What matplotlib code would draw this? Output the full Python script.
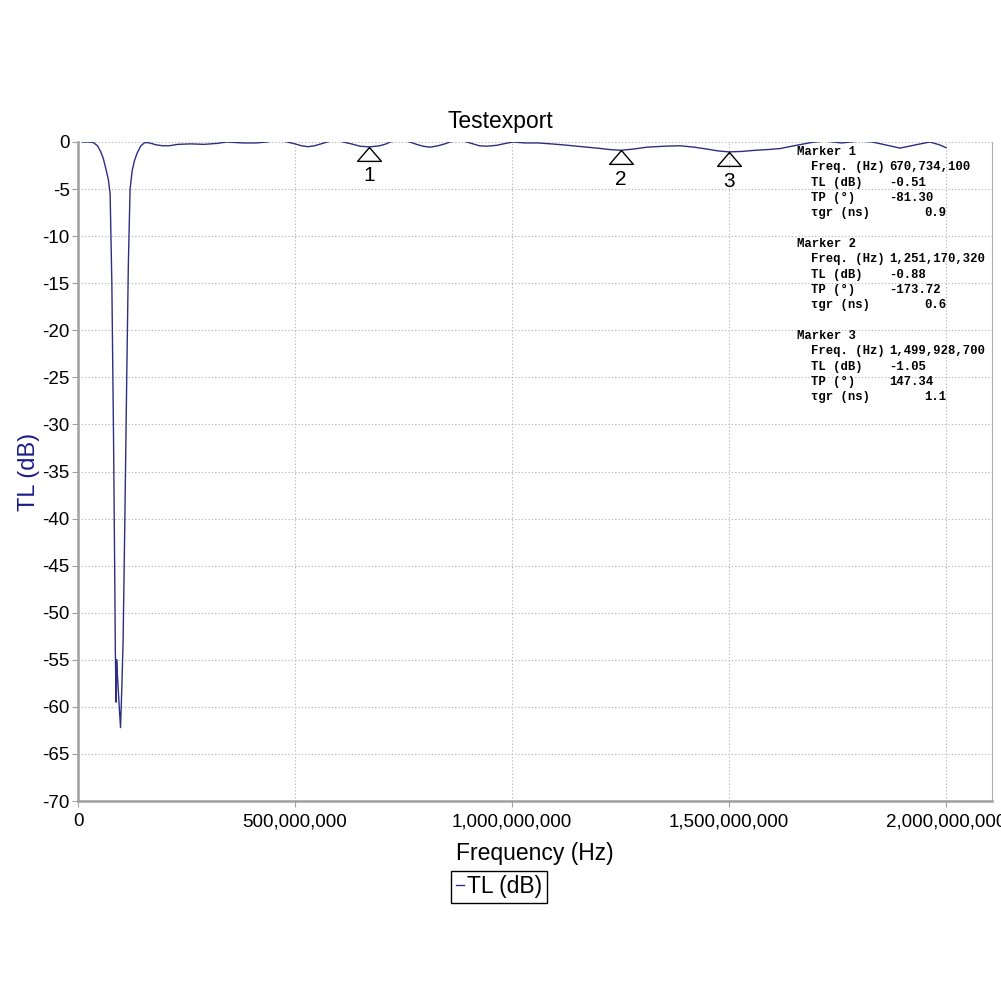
import numpy as np
import matplotlib.pyplot as plt

# transmission loss trace, frequency in MHz
freq_mhz = [10, 25, 35, 45, 52, 58, 64, 70, 74, 78, 82, 85, 86, 87, 88, 89, 90, 92, 95, 98,
            101, 104, 108, 112, 116, 120, 125, 130, 136, 145, 154, 165, 180, 195, 210, 230,
            260, 290, 320, 343, 380, 410, 435, 460, 482, 500, 515, 530, 545, 560, 574, 592,
            611, 630, 650, 672, 695, 710, 719, 742, 765, 780, 795, 811, 830, 845, 857, 876,
            896, 910, 925, 942, 965, 985, 1002, 1030, 1060, 1090, 1117, 1150, 1196, 1225,
            1251, 1280, 1311, 1350, 1387, 1420, 1449, 1475, 1500, 1530, 1555, 1590, 1617,
            1650, 1690, 1720, 1760, 1800, 1830, 1860, 1894, 1930, 1963, 1985, 2000]
tl_db = [0.0, 0.0, -0.05, -0.4, -1.0, -1.7, -2.8, -4.0, -5.5, -15, -32, -48, -54, -57, -59.5,
         -55, -56, -57.5, -60, -62.2, -58, -52.8, -40, -26, -13, -5.0, -3.0, -2.0, -1.2, -0.4,
         -0.05, -0.1, -0.3, -0.4, -0.4, -0.25, -0.2, -0.25, -0.15, 0.0, -0.1, -0.1, 0.0, 0.2,
         0.0, -0.2, -0.4, -0.5, -0.4, -0.2, 0.0, 0.2, 0.0, -0.2, -0.45, -0.52, -0.4, -0.2,
         0.0, 0.2, 0.0, -0.25, -0.45, -0.55, -0.4, -0.2, 0.0, 0.2, 0.0, -0.2, -0.4, -0.45,
         -0.35, -0.15, 0.0, -0.1, -0.1, -0.2, -0.3, -0.45, -0.65, -0.8, -0.88, -0.75, -0.55,
         -0.45, -0.4, -0.55, -0.75, -0.95, -1.05, -1.0, -0.9, -0.8, -0.7, -0.4, -0.05, 0.1,
         -0.1, 0.1, 0.0, -0.3, -0.65, -0.3, 0.0, -0.3, -0.6]

marker_freq = [670734100, 1251170320, 1499928700]
marker_tl = [-0.51, -0.88, -1.05]
marker_tp = ["-81.30", "-173.72", "147.34"]
marker_tgr = ["0.9", "0.6", "1.1"]

x_ticks = [0, 500e6, 1000e6, 1500e6, 2000e6]
y_ticks = list(range(0, -75, -5))

plt.rcParams['font.family'] = ['Liberation Sans', 'DejaVu Sans']
plt.rcParams['axes.unicode_minus'] = False

W = 1001
fig = plt.figure(figsize=(10.01, 10.01), dpi=100)
ax = fig.add_axes([78 / W, 1 - 801 / W, (992 - 78) / W, (801 - 142) / W])

f = np.array(freq_mhz) * 1e6
ax.plot(f, tl_db, color='#2e2e82', lw=1.0, label='TL (dB)')

ax.set_xlim(0, 2.106e9)
ax.set_ylim(-70, 0)
ax.set_xticks(x_ticks)
ax.set_xticklabels([f"{int(v):,}" for v in x_ticks])
ax.set_yticks(y_ticks)
ax.tick_params(labelsize=13.5, length=4, color='#a0a0a0')
ax.tick_params(axis='x', pad=5)
ax.tick_params(axis='y', pad=2)
ax.grid(True, color='#b0b0b0', linestyle=(0, (1, 2)), lw=0.8)

for s in ['left', 'bottom']:
    ax.spines[s].set_color('#a0a0a0')
    ax.spines[s].set_linewidth(1.8)
ax.spines['right'].set_color('#b0b0b0')
ax.spines['top'].set_visible(False)

ax.set_title('Testexport', fontsize=16.5, pad=10, x=0.462)
ax.set_xlabel('Frequency (Hz)', fontsize=16.5, labelpad=8)
ax.set_ylabel('TL (dB)', fontsize=17, color='#1c1c8a', labelpad=2)

# marker triangles hanging below the trace
tri = [(0, 0), (-12, -14), (12, -14), (0, 0)]
for i, (mf, mv) in enumerate(zip(marker_freq, marker_tl)):
    ax.plot(mf, mv, marker=tri, ms=20, mfc='none', mec='black', mew=1.0, clip_on=False)
    ax.annotate(str(i + 1), (mf, mv), xytext=(0, -21), textcoords='offset points',
                ha='center', va='center', fontsize=15)

leg = ax.legend(loc='upper center', bbox_to_anchor=(0.4605, -0.106), fontsize=16.5,
                handlelength=0.35, handletextpad=0.15, borderpad=0.2, borderaxespad=0,
                fancybox=False, framealpha=1, edgecolor='black')
leg.get_frame().set_linewidth(1.0)

# marker readout block
mono = ['Liberation Mono', 'DejaVu Sans Mono']
kw = dict(fontsize=8.8, fontweight='bold', family=mono, va='center')
for i in range(3):
    y0 = 152 + i * 92
    fig.text(797 / W, 1 - y0 / W, f"Marker {i + 1}", **kw)
    rows = [("Freq. (Hz)", f"{marker_freq[i]:,}"),
            ("TL (dB)", f"{marker_tl[i]:.2f}"),
            ("TP (°)", marker_tp[i])]
    for j, (name, val) in enumerate(rows):
        yy = 1 - (y0 + 15.3 * (j + 1)) / W
        fig.text(811 / W, yy, name, **kw)
        fig.text(889 / W, yy, val, **kw)
    yy = 1 - (y0 + 15.3 * 4) / W
    fig.text(811 / W, yy, "τgr (ns)", **kw)
    fig.text(946 / W, yy, marker_tgr[i], ha='right', **kw)

fig.savefig('out.png', dpi=100)
